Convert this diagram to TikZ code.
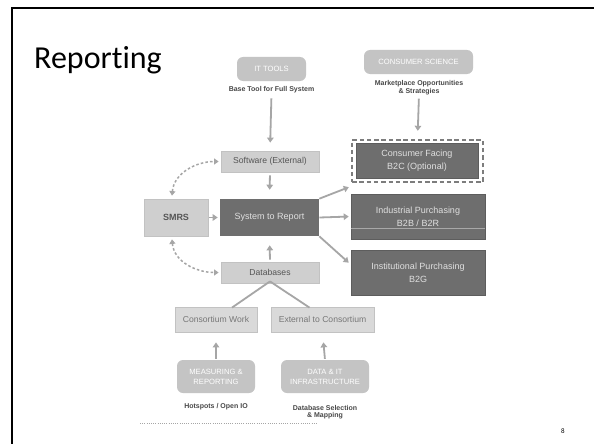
\documentclass[tikz,border=0pt]{standalone}
\usepackage{fontspec}
\setmainfont{Liberation Sans}
\newfontfamily\titlefont[Ligatures=NoCommon]{Carlito}
\usetikzlibrary{arrows.meta}
\definecolor{lightbox}{HTML}{CFCFCF}
\definecolor{lightedge}{HTML}{C2C2C2}
\definecolor{roundbox}{HTML}{C4C4C4}
\definecolor{darkbox}{HTML}{6E6E6E}
\definecolor{darktext}{HTML}{555555}
\definecolor{linkgray}{HTML}{A6A6A6}
\tikzset{
  plainbox/.style={draw=lightedge, line width=0.8pt, fill=lightbox, text=darktext,
    inner sep=0pt, font=\fontsize{8.6}{10}\selectfont},
  darkbox/.style={draw=darkbox!85!black, line width=0.6pt, fill=darkbox, text=white!88!black,
    inner sep=0pt, align=center, font=\fontsize{9}{13}\selectfont},
  pillbox/.style={fill=roundbox, rounded corners=6pt, text=white, inner sep=0pt,
    align=center, font=\fontsize{7.6}{10}\selectfont},
  sublabel/.style={text=darktext!85!black, align=center, inner sep=0pt,
    font=\fontsize{7}{9}\selectfont\bfseries},
  link/.style={draw=linkgray, line width=1.8pt,
    -{Triangle[width=6.5pt,length=5pt]}},
  dashlink/.style={draw=linkgray, line width=1.5pt, dash pattern=on 2.5pt off 2.2pt,
    {Triangle[width=6pt,length=4.5pt]}-{Triangle[width=6pt,length=4.5pt]}},
  plainline/.style={draw=linkgray, line width=1.8pt}
}
\begin{document}
\begin{tikzpicture}[x=1pt,y=-1pt]
\useasboundingbox (0,0) rectangle (594,444);
\fill[white] (0,0) rectangle (594,444);
% slide frame
\draw[line width=2pt] (12,450) -- (12,8) -- (600,8);
% title and page number
\node[anchor=base west, inner sep=0pt, font=\titlefont\fontsize{32}{36}\selectfont] (title) at (34,68) {Repor\kern0pt ting};
\node[inner sep=0pt, font=\titlefont\fontsize{7}{8}\selectfont] (pagenum) at (563,431) {8};

% top inputs
\node[pillbox, minimum width=69pt, minimum height=24pt] (ittools) at (271.5,69) {IT TOOLS};
\node[sublabel] (itlab) at (271.5,90) {Base Tool for Full System};
\node[pillbox, minimum width=109pt, minimum height=24pt] (consci) at (418.5,62) {CONSUMER SCIENCE};
\node[sublabel] (cslab) at (419,87.5) {Marketplace Opportunities\\[-1.5pt] \& Strategies};

% central column
\node[plainbox, minimum width=98pt, minimum height=21pt] (soft) at (270,161.5) {Software (External)};
\node[plainbox, minimum width=64pt, minimum height=37pt, font=\fontsize{9}{10}\selectfont\bfseries] (smrs) at (176,217.5) {SMRS};
\node[darkbox, draw=none, minimum width=99pt, minimum height=37pt] (sys) at (269.5,217.5) {System to Report};
\node[plainbox, minimum width=98pt, minimum height=21pt] (db) at (270,272.5) {Databases};

% right-hand outputs
\node[draw=darkbox!90!white, line width=2.4pt, dash pattern=on 4.5pt off 2.8pt, fill=white,
  minimum width=131pt, minimum height=42pt, inner sep=0pt] (cfframe) at (417.5,161) {};
\node[darkbox, minimum width=122pt, minimum height=35pt] (cf) at (417,160.5) {Consumer Facing\\B2C (Optional)};
\node[darkbox, minimum width=134pt, minimum height=45pt] (ind) at (418,216.5) {Industrial Purchasing\\B2B / B2R};
\draw[darkbox!60!white, line width=0.6pt] ([yshift=11pt]ind.south west) -- ([yshift=11pt]ind.south east);
\node[darkbox, minimum width=134pt, minimum height=45pt] (inst) at (418,272.5) {Institutional Purchasing\\B2G};

% lower column
\node[plainbox, fill=lightbox!80!white, text=darktext!80!white, minimum width=82pt, minimum height=25pt] (cw) at (216,319.5) {Consortium Work};
\node[plainbox, fill=lightbox!80!white, text=darktext!80!white, minimum width=103pt, minimum height=25pt] (ext) at (322.5,319.5) {External to Consortium};
\node[pillbox, minimum width=78pt, minimum height=33pt] (mr) at (216,376.5) {MEASURING \&\\REPORTING};
\node[pillbox, minimum width=88pt, minimum height=33pt] (dit) at (325,376.5) {DATA \& IT\\INFRASTRUCTURE};
\node[sublabel] (mrlab) at (216,407) {Hotspots / Open IO};
\node[sublabel] (ditlab) at (325,412) {Database Selection\\[-1.5pt] \& Mapping};
\coordinate (dotsA) at (140,423);
\coordinate (dotsB) at (318,423);
\draw[linkgray, line width=0.8pt, dash pattern=on 1pt off 1.2pt] (dotsA) -- (dotsB);

% connectors
\draw[link, shorten <=5pt, shorten >=8pt] (itlab.south) -- (soft.north);
\draw[link, shorten <=4pt, shorten >=8pt] (cslab.south) -- (cfframe.north);
\draw[link, shorten <=3pt, shorten >=9pt] (soft.south) -- (sys.north);
\draw[link, shorten <=1pt, shorten >=2pt] (smrs.east) -- (sys.west);
\draw[link, shorten <=2pt, shorten >=9pt] (db.north) -- (sys.south);
\draw[link] (sys.north east) -- ([xshift=-2pt,yshift=-4pt]cfframe.south west);
\draw[link, shorten >=2pt] (sys.east) -- (ind.west);
\draw[link] (sys.south east) -- ([xshift=-2pt,yshift=-13pt]inst.north west);
\draw[dashlink] ([xshift=-4pt,yshift=3pt]smrs.north) to[out=85, in=180] ([xshift=-2pt]soft.west);
\draw[dashlink] ([xshift=-4pt,yshift=-3pt]smrs.south) to[out=-85, in=180] ([xshift=-2pt]db.west);
\draw[plainline] ([yshift=2pt]db.south) -- ([xshift=16pt,yshift=-1pt]cw.north);
\draw[plainline] ([yshift=2pt]db.south) -- ([xshift=-13pt,yshift=-1pt]ext.north);
\draw[link, shorten <=1pt, shorten >=10pt] (mr.north) -- (cw.south);
\draw[link, shorten <=1pt, shorten >=10pt] (dit.north) -- (ext.south);
\end{tikzpicture}
\end{document}
